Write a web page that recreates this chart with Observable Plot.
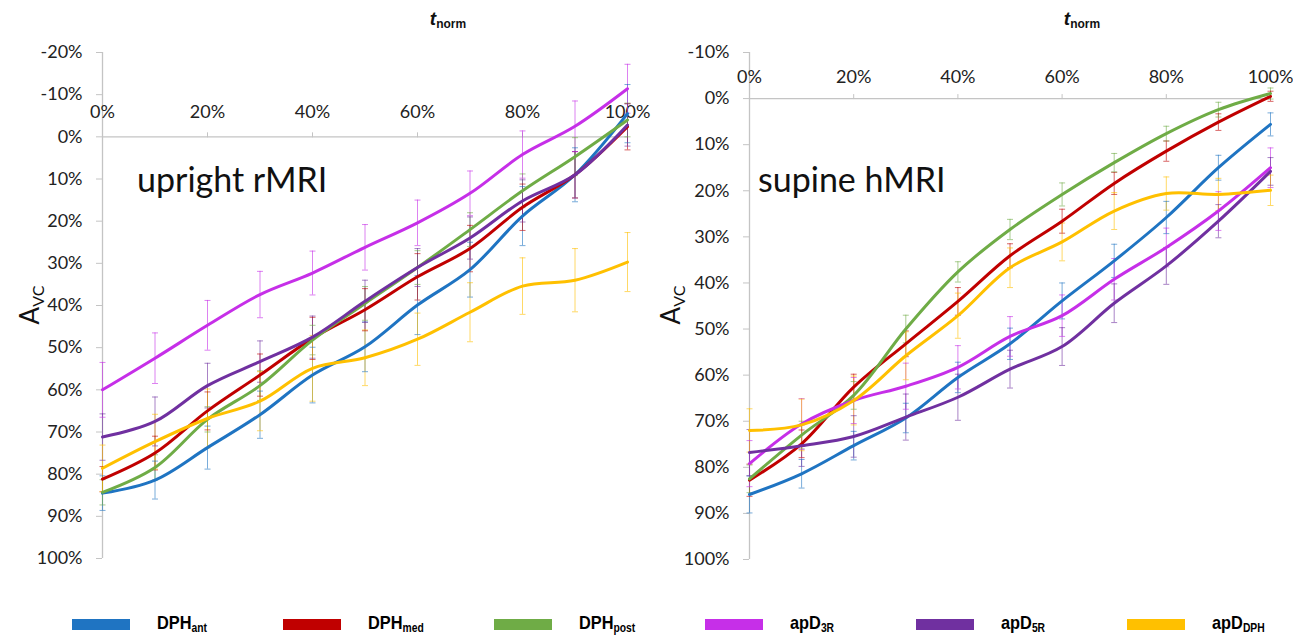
<!DOCTYPE html>
<html><head><meta charset="utf-8">
<script src="https://cdn.jsdelivr.net/npm/d3@7"></script>
<script src="https://cdn.jsdelivr.net/npm/@observablehq/plot@0.6"></script>
<style>
body{margin:0;background:#fff;width:1293px;height:637px;overflow:hidden;position:relative;font-family:Lato,"Open Sans",sans-serif;color:#111;}
.panel{position:absolute;top:0;}
.tnorm{position:absolute;top:8px;transform:translateX(-50%);font-family:"Liberation Sans",Arial,sans-serif;font-weight:bold;font-size:19px;white-space:nowrap;}
.tnorm sub{font-size:12px;vertical-align:-3px;}
.ylab{position:absolute;transform:translate(-50%,-50%) rotate(-90deg);font-family:Lato,sans-serif;font-size:26px;white-space:nowrap;color:#111;}
.ylab sub{font-size:16px;vertical-align:-5px;}
.ptitle{position:absolute;font-family:Lato,sans-serif;font-size:34px;white-space:nowrap;color:#111;line-height:1;}
#legend{position:absolute;left:72px;top:614px;display:grid;grid-template-columns:repeat(6,211px);}
.item{display:flex;align-items:center;height:20px;}
.sw{width:58px;height:11px;margin-right:27px;}
.lt{font-family:"Liberation Sans",Arial,sans-serif;font-weight:bold;font-size:19px;color:#000;white-space:nowrap;line-height:19px;transform:scaleX(0.86);transform-origin:left center;}
.lt sub{font-size:12px;vertical-align:baseline;position:relative;top:3px;}
</style></head>
<body>
<div id="left" class="panel" style="left:0px"></div>
<div id="right" class="panel" style="left:646px"></div>
<div class="tnorm" style="left:448px"><i>t</i><sub>norm</sub></div>
<div class="tnorm" style="left:1082px"><i>t</i><sub>norm</sub></div>
<div class="ylab" style="left:30px;top:305px">A<sub>VC</sub></div>
<div class="ylab" style="left:671px;top:305px">A<sub>VC</sub></div>
<div class="ptitle" style="left:137px;top:162px">upright rMRI</div>
<div class="ptitle" style="left:758px;top:162px">supine hMRI</div>
<div id="legend"></div>
<script>
// ---- data ----
const tNorm = [0,10,20,30,40,50,60,70,80,90,100];
const seriesNames = ["DPHant","DPHmed","DPHpost","apD3R","apD5R","apDDPH"];
const legendMain = ["DPH","DPH","DPH","apD","apD","apD"];
const legendSub = ["ant","med","post","3R","5R","DPH"];
const seriesColors = ["#1f74c2","#c00000","#6fac46","#c62fe8","#7030a0","#ffc000"];
const xTicks = [0,20,40,60,80,100];
const uprightTicks = [-20,-10,0,10,20,30,40,50,60,70,80,90,100];
const supineTicks = [-10,0,10,20,30,40,50,60,70,80,90,100];

// upright rMRI (mean A_VC %)
const uprightAnt  = [84.5,81.4,73.7,65.9,56.5,49.8,39.9,31.5,18.8,9,-5.5];
const uprightMed  = [81.2,75,65,56.5,47.8,41,33.2,26.5,16.7,9,-2.4];
const uprightPost = [84.3,78.4,67,59,48.2,39.5,31,22,12.8,4.7,-4];
const upright3R   = [60,52.5,44.7,37.4,32.3,26.2,20.4,13.4,4.2,-2.5,-11.4];
const upright5R   = [71.2,67.5,59,53.3,47.5,39,31,24,15.2,9,-2.8];
const uprightDPH  = [78.6,72.3,66.8,62.7,54.9,52.4,48,41.6,35.4,34,29.7];
// upright error (sd)
const uprightAntSd  = [4.1,4.5,5.1,5.6,6.6,5.9,7,6.5,7,6.4,6.9];
const uprightMedSd  = [3,4,4.5,5,5,5,5.5,5.5,5.5,5.5,5.5];
const uprightPostSd = [3,3,3,3.5,3.5,4,4,4,4,4.5,4];
const upright3RSd   = [6.5,6,5.9,5.5,5.2,5.4,5.4,5.3,5.6,6,5.8];
const upright5RSd   = [5.5,5.8,5.3,4.9,5,5,4.5,5,5,5.5,5];
const uprightDPHSd  = [5.5,6.5,7,7,7.8,6.6,6.2,7,6.7,7.5,7];

// supine hMRI (mean A_VC %)
const supineAnt  = [85.9,81.4,75.3,69.3,60.5,53.2,43.9,35.2,25.8,15,5.6];
const supineMed  = [82.8,74.9,62.6,53.2,44,34.1,26.6,18.4,11.4,5.1,-0.5];
const supinePost = [82.5,73,64.4,50,37.6,28.4,20.8,13.9,7.6,2.4,-1.1];
const supine3R   = [79.2,70.6,65.5,62.4,58.3,51.6,47.1,39.2,32.3,24.4,15];
const supine5R   = [76.8,75.3,73.3,69.1,64.8,58.7,53.8,44.4,36.3,26.6,15.8];
const supineDPH  = [72,70.8,65.5,55.8,47.1,36.7,31.1,24.4,20.6,20.8,19.9];
// supine error (sd)
const supineAntSd  = [4,3.1,3.1,3.2,3.3,3.4,3.9,3.6,3.5,2.7,2.5];
const supineMedSd  = [3.5,3,2.8,2.8,3,2.6,2.6,2.4,2.2,1.8,1.1];
const supinePostSd = [3,3,3,3,2.2,2.2,2.5,2,1.6,1.6,1.2];
const supine3RSd   = [5,5.5,5,5,4.7,4.3,4.5,4.5,4.2,4.2,4.3];
const supine5RSd   = [5,4.5,4.5,5,5,4.1,4.1,4.2,4,3.6,3];
const supineDPHSd  = [4.7,5.6,5.3,5.2,4.9,4.3,4.1,4,3.6,3.5,3.3];

// ---- drawing ----
const cap = {draw(ctx){ ctx.moveTo(-3,0); ctx.lineTo(3,0); }};
const axisGray = "#c4c4c4";

function makePanel(cfg){
  const rows = [];
  cfg.values.forEach((vals,i)=>vals.forEach((v,j)=>{
    const sd = cfg.sds[i][j];
    rows.push({s: seriesNames[i], t: tNorm[j], v, lo: v - sd, hi: v + sd});
  }));
  const H = 600;
  const innerH = H - cfg.mt - cfg.mb;
  const yMin = cfg.ticks[0];
  const zeroOffset = (0 - yMin) / (100 - yMin) * innerH;
  return Plot.plot({
    width: cfg.width, height: H,
    marginLeft: cfg.ml, marginRight: cfg.mr, marginTop: cfg.mt, marginBottom: cfg.mb,
    x: {domain: [0,100], label: null},
    y: {domain: [yMin,100], reverse: true, label: null},
    color: {domain: seriesNames, range: seriesColors},
    style: {fontFamily: "Lato, sans-serif", fontSize: "18px", color: "#222", background: "transparent", overflow: "visible"},
    marks: [
      Plot.ruleX([0], {stroke: axisGray, strokeWidth: 1.3}),
      Plot.ruleY([0], {stroke: axisGray, strokeWidth: 1.3}),
      Plot.axisY(cfg.ticks, {tickSize: 6, tickPadding: 14, stroke: axisGray, fill: "#222", fontSize: 18, tickFormat: d => d + "%", label: null}),
      Plot.axisX(xTicks, {anchor: "top", dy: zeroOffset, tickSize: 5, tickPadding: cfg.xpad, stroke: axisGray, fill: "#222", fontSize: 18, tickFormat: d => d + "%", label: null}),
      Plot.ruleX(rows, {x: "t", y1: "lo", y2: "hi", stroke: "s", strokeOpacity: 0.6, strokeWidth: 1}),
      Plot.dot(rows, {x: "t", y: "lo", symbol: cap, stroke: "s", strokeOpacity: 0.6, strokeWidth: 1, fill: "none"}),
      Plot.dot(rows, {x: "t", y: "hi", symbol: cap, stroke: "s", strokeOpacity: 0.6, strokeWidth: 1, fill: "none"}),
      Plot.line(rows, {x: "t", y: "v", z: "s", stroke: "s", strokeWidth: 3, curve: "catmull-rom"})
    ]
  });
}

document.getElementById("left").appendChild(makePanel({
  width: 646, ml: 102, mr: 19, mt: 52, mb: 42, xpad: 14, ticks: uprightTicks,
  values: [uprightAnt, uprightMed, uprightPost, upright3R, upright5R, uprightDPH],
  sds: [uprightAntSd, uprightMedSd, uprightPostSd, upright3RSd, upright5RSd, uprightDPHSd]
}));
document.getElementById("right").appendChild(makePanel({
  width: 647, ml: 103, mr: 23, mt: 52, mb: 41, xpad: 11, ticks: supineTicks,
  values: [supineAnt, supineMed, supinePost, supine3R, supine5R, supineDPH],
  sds: [supineAntSd, supineMedSd, supinePostSd, supine3RSd, supine5RSd, supineDPHSd]
}));

const legend = document.getElementById("legend");
seriesNames.forEach((n,i)=>{
  const it = document.createElement("div"); it.className = "item";
  const sw = document.createElement("div"); sw.className = "sw"; sw.style.background = seriesColors[i];
  const lt = document.createElement("div"); lt.className = "lt";
  lt.innerHTML = legendMain[i] + "<sub>" + legendSub[i] + "</sub>";
  it.appendChild(sw); it.appendChild(lt); legend.appendChild(it);
});
</script>
</body></html>
